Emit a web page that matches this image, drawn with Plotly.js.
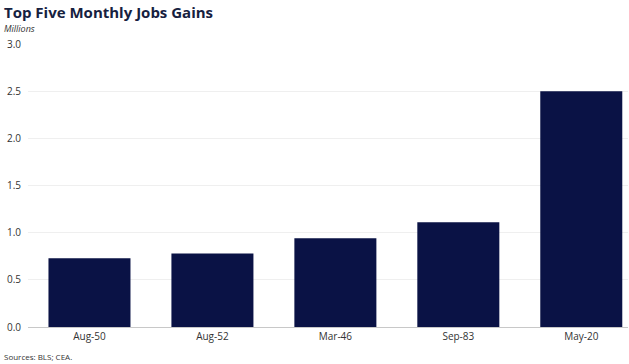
<!DOCTYPE html>
<html>
<head>
<meta charset="utf-8">
<script src="https://cdn.plot.ly/plotly-3.0.1.min.js"></script>
<style>html,body{margin:0;padding:0;background:#fff;}#chart{width:629px;height:364px;}</style>
</head>
<body>
<div id="chart"></div>
<script>
const categories = ["Aug-50", "Aug-52", "Mar-46", "Sep-83", "May-20"];
const values = [0.73, 0.78, 0.94, 1.11, 2.50];
const yTicks = [0, 0.5, 1.0, 1.5, 2.0, 2.5, 3.0];
const yTickLabels = ["0.0", "0.5", "1.0", "1.5", "2.0", "2.5", "3.0"];

const trace = {
  type: "bar",
  x: categories,
  y: values,
  width: 0.667,
  marker: {color: "#0a1245", line: {width: 0}},
  hoverinfo: "x+y"
};

const layout = {
  width: 629, height: 364,
  margin: {l: 28, r: 1, t: 44, b: 37},
  paper_bgcolor: "#fff", plot_bgcolor: "#fff",
  showlegend: false,
  font: {family: "Open Sans, sans-serif", size: 10, color: "#333"},
  xaxis: {
    type: "category",
    range: [-0.5, 4.38],
    showgrid: false, zeroline: false,
    showline: true, linecolor: "#c8c8c8", linewidth: 1,
    ticks: "", tickfont: {size: 10, color: "#333"},
    fixedrange: true
  },
  yaxis: {
    range: [0, 3.0],
    tickvals: yTicks, ticktext: yTickLabels,
    showgrid: true, gridcolor: "#efefef", gridwidth: 1,
    zeroline: false, showline: false, ticks: "",
    tickfont: {size: 10, color: "#333"},
    ticklabelstandoff: 6,
    fixedrange: true
  },
  annotations: [
    {text: "<b>Top Five Monthly Jobs Gains</b>", xref: "paper", yref: "paper", x: -0.043, y: 1.0, xanchor: "left", yanchor: "bottom",
     yshift: 20, showarrow: false, font: {family: "Open Sans, sans-serif", size: 15, color: "#16213f"}},
    {text: "<i>Millions</i>", xref: "paper", yref: "paper", x: -0.043, y: 1.0, xanchor: "left", yanchor: "bottom",
     yshift: 7, showarrow: false, font: {family: "Open Sans, sans-serif", size: 9, color: "#333"}},
    {text: "Sources: BLS; CEA.", xref: "paper", yref: "paper", x: -0.043, y: 0, xanchor: "left", yanchor: "top",
     yshift: -22, showarrow: false, font: {family: "Open Sans, sans-serif", size: 8, color: "#333"}}
  ]
};

Plotly.newPlot("chart", [trace], layout, {displayModeBar: false, staticPlot: true});
</script>
</body>
</html>
